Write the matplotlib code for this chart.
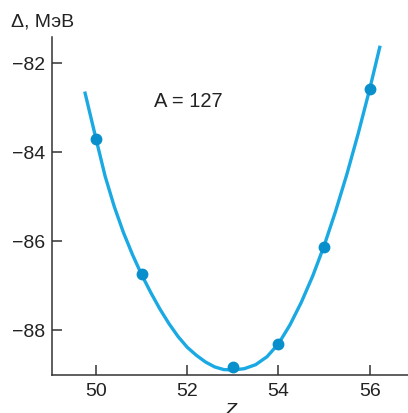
import numpy as np
import matplotlib.pyplot as plt

plt.rcParams['font.family'] = ['Liberation Sans', 'DejaVu Sans']

# measured points (Z, mass excess in MeV) for A = 127
z_pts = [50, 51, 53, 54, 55, 56]
d_pts = [-83.71, -86.74, -88.83, -88.31, -86.13, -82.58]

# fitted curve
z_curve = [49.76, 50.00, 50.20, 50.40, 50.60, 50.80, 51.00, 51.20, 51.40, 51.60,
           51.80, 52.00, 52.20, 52.40, 52.60, 52.80, 53.00, 53.25, 53.50, 53.75,
           54.00, 54.25, 54.50, 54.75, 55.00, 55.25, 55.50, 55.75, 56.00, 56.22]
d_curve = [-82.68, -83.71, -84.55, -85.23, -85.81, -86.31, -86.76, -87.16, -87.53, -87.86,
           -88.15, -88.39, -88.57, -88.72, -88.83, -88.89, -88.90, -88.87, -88.78, -88.60,
           -88.31, -87.89, -87.38, -86.79, -86.11, -85.34, -84.50, -83.58, -82.59, -81.65]

fig = plt.figure(figsize=(4.08, 4.14), dpi=100)
ax = fig.add_axes([0.127, 0.092, 0.873, 0.816])

ax.plot(z_curve, d_curve, color='#1aa9e2', lw=2.4, solid_joinstyle='round', zorder=2)
ax.plot(z_pts, d_pts, 'o', color='#0990cc', ms=7.5, zorder=3)

ax.set_xlim(49.03, 56.84)
ax.set_ylim(-89.01, -81.42)
ax.set_xticks([50, 52, 54, 56])
ax.set_yticks([-88, -86, -84, -82])
ax.set_yticklabels(['\u221288', '\u221286', '\u221284', '\u221282'])

for s in ['top', 'right']:
    ax.spines[s].set_visible(False)
for s in ['left', 'bottom']:
    ax.spines[s].set_linewidth(1.1)
    ax.spines[s].set_color('#333333')

ax.tick_params(direction='in', length=7, width=1.1, color='#333333',
               labelsize=14, labelcolor='#222222', pad=5)

ax.set_xlabel('Z', fontsize=14, style='italic', labelpad=2, color='#222222')
fig.text(0.027, 0.947, '\u0394, МэВ', fontsize=14, color='#222222', va='center')
ax.text(0.287, 0.811, 'A = 127', transform=ax.transAxes, fontsize=14.5,
        color='#222222', va='center')

fig.savefig('out.png', dpi=100)
